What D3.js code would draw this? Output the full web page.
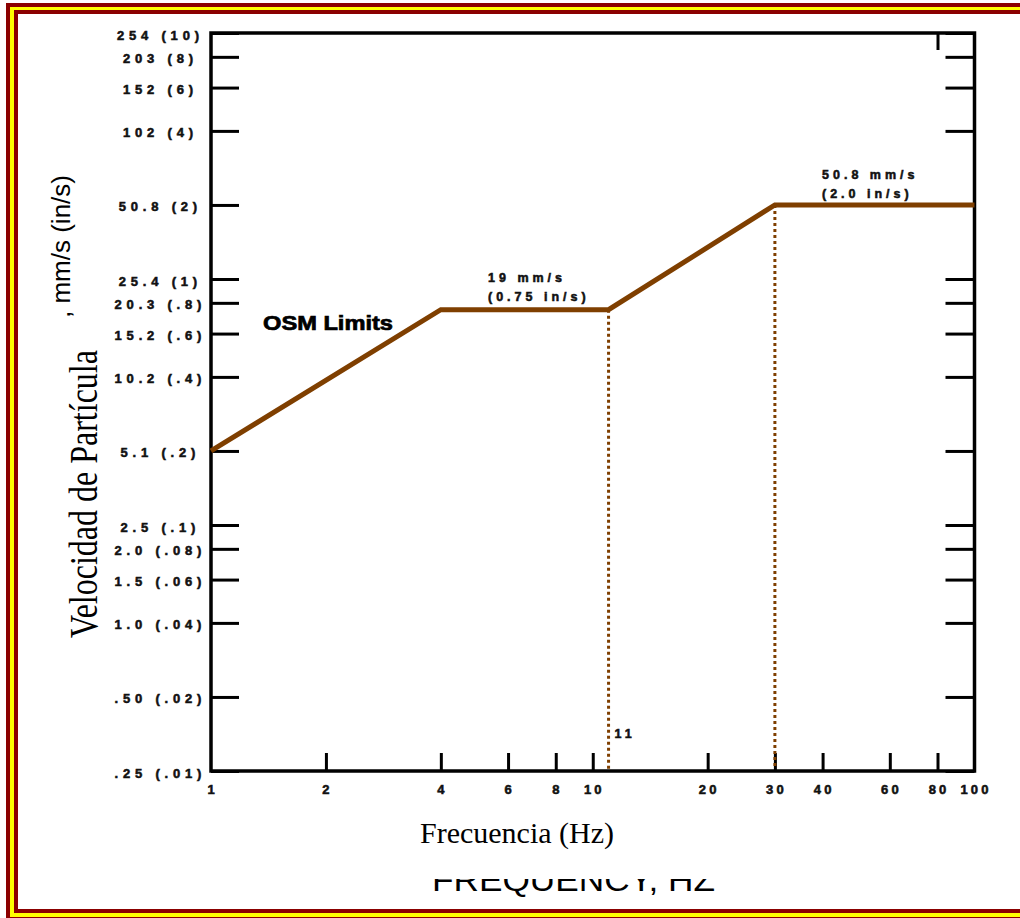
<!DOCTYPE html>
<html><head><meta charset="utf-8">
<script src="https://cdn.jsdelivr.net/npm/d3@7"></script>
<style>body{margin:0;background:#fff}svg{display:block}</style>
</head><body>
<svg id="c" width="1020" height="918"></svg>
<script>
// ---- data ----
const freqTicks = [2, 4, 6, 8, 10, 20, 30, 40, 60, 80];
const freqLabels = [1, 2, 4, 6, 8, 10, 20, 30, 40, 60, 80, 100];
const velTicksIn = [10, 8, 6, 4, 2, 1, 0.8, 0.6, 0.4, 0.2, 0.1, 0.08, 0.06, 0.04, 0.02, 0.01];
const velTickLabels = ["254 (10)", "203 (8)", "152 (6)", "102 (4)", "50.8 (2)", "25.4 (1)", "20.3 (.8)", "15.2 (.6)", "10.2 (.4)", "5.1 (.2)", "2.5 (.1)", "2.0 (.08)", "1.5 (.06)", "1.0 (.04)", ".50 (.02)", ".25 (.01)"];
const limitFreq = [1, 4, 11, 30, 100];
const limitVelIn = [0.2, 0.75, 0.75, 2.0, 2.0];
const markerFreq = [11, 30];
const topTickFreq = [80];
const markerLabel = "11";
const seriesLabel = "OSM Limits";
const plateau1 = ["19 mm/s", "(0.75 in/s)"];
const plateau2 = ["50.8 mm/s", "(2.0 in/s)"];
const xTitle = "Frecuencia (Hz)";
const xTitleOld = "FREQUENCY, HZ";
const yTitle = "Velocidad de Partícula";
const yUnits = ", mm/s (in/s)";

const svg = d3.select("#c");
const RED = "#8b0000", YEL = "#ffff00", BROWN = "#7f3f00";
const SANS = "'Liberation Sans', Arial, sans-serif";
const SERIF = "'Liberation Serif', 'Times New Roman', serif";

// ---- frame border ----
svg.append("rect").attr("width", 1020).attr("height", 918).attr("fill", "#fff");
svg.append("rect").attr("x", 6).attr("y", 3).attr("width", 1100).attr("height", 1000).attr("fill", RED);
svg.append("rect").attr("x", 10).attr("y", 7).attr("width", 1100).attr("height", 910).attr("fill", YEL);
svg.append("rect").attr("x", 14).attr("y", 10).attr("width", 1100).attr("height", 903).attr("fill", RED);
svg.append("rect").attr("x", 18).attr("y", 14).attr("width", 1100).attr("height", 895).attr("fill", "#fff");

// ---- scales ----
const x = d3.scaleLog().domain([1, 100]).range([211, 974.5]);
const y = d3.scaleLog().domain([0.01, 10]).range([771, 33]);

const g = svg.append("g");

// y ticks (left and right, inward)
const yAxisL = d3.axisLeft(y).tickValues(velTicksIn).tickSize(-28).tickSizeOuter(0).tickFormat("");
const gl = g.append("g").attr("transform", `translate(${x(1)},0)`).call(yAxisL);
gl.select(".domain").remove();
gl.selectAll(".tick line").attr("stroke", "#000").attr("stroke-width", 3);

const yAxisR = d3.axisRight(y).tickValues(velTicksIn).tickSize(-29).tickSizeOuter(0).tickFormat("");
const gr = g.append("g").attr("transform", `translate(${x(100)},0)`).call(yAxisR);
gr.select(".domain").remove();
gr.selectAll(".tick line").attr("stroke", "#000").attr("stroke-width", 3);

// x ticks (bottom, inward)
const xAxisB = d3.axisBottom(x).tickValues(freqTicks).tickSize(-18).tickSizeOuter(0).tickFormat("");
const gb = g.append("g").attr("transform", `translate(0,${y(0.01)})`).call(xAxisB);
gb.select(".domain").remove();
gb.selectAll(".tick line").attr("stroke", "#000").attr("stroke-width", 3);

const xAxisT = d3.axisTop(x).tickValues(topTickFreq).tickSize(-17).tickSizeOuter(0).tickFormat("");
const gt = g.append("g").attr("transform", `translate(0,${y(10)})`).call(xAxisT);
gt.select(".domain").remove();
gt.selectAll(".tick line").attr("stroke", "#000").attr("stroke-width", 3);

// frame
g.append("rect")
  .attr("x", x(1)).attr("y", y(10))
  .attr("width", x(100) - x(1)).attr("height", y(0.01) - y(10))
  .attr("fill", "none").attr("stroke", "#000").attr("stroke-width", 3.5);

const heavy = (t, size, ls) => t.attr("font-family", SANS).attr("font-weight", "bold")
  .attr("font-size", size).attr("letter-spacing", ls)
  .attr("fill", "#111").attr("stroke", "#111").attr("stroke-width", 0.55);

// y tick labels
const lsY = 4.8;
g.selectAll(".ylab").data(velTicksIn).enter().append("text")
  .attr("x", 158 + lsY / 2).attr("y", d => y(d) + 6.5)
  .attr("text-anchor", "middle")
  .call(heavy, 13, lsY)
  .text((d, i) => velTickLabels[i]);

// x tick labels
const lsX = 3.2;
g.selectAll(".xlab").data(freqLabels).enter().append("text")
  .attr("x", d => x(d) + lsX / 2).attr("y", d => y(0.01) + 22.5)
  .attr("text-anchor", "middle")
  .call(heavy, 13, lsX)
  .text(d => d);

// dotted marker lines
const limitPts = limitFreq.map((f, i) => [f, limitVelIn[i]]);
const velAt = f => limitVelIn[limitFreq.indexOf(f)];
g.selectAll(".mk").data(markerFreq).enter().append("line")
  .attr("x1", d => x(d)).attr("x2", d => x(d))
  .attr("y1", d => y(velAt(d))).attr("y2", y(0.01) - 2)
  .attr("stroke", BROWN).attr("stroke-width", 3).attr("stroke-dasharray", "3,3");

// limit line
g.append("path").datum(limitPts)
  .attr("d", d3.line().x(d => x(d[0])).y(d => y(d[1])))
  .attr("fill", "none").attr("stroke", BROWN).attr("stroke-width", 5).attr("stroke-linejoin", "miter");

// annotations
plateau1.forEach((s, i) => {
  g.append("text").attr("x", 488).attr("y", y(0.75) - 27.5 + i * 18.5).text(s).call(heavy, 12.5, 4);
});
plateau2.forEach((s, i) => {
  g.append("text").attr("x", 822).attr("y", y(2.0) - 25.5 + i * 19).text(s).call(heavy, 12.5, 4);
});
g.append("text").attr("x", x(11) + 6).attr("y", 738).text(markerLabel).call(heavy, 12.5, 4);

g.append("text").attr("x", 263).attr("y", 330)
  .attr("font-family", SANS).attr("font-weight", "bold").attr("font-size", 20)
  .attr("textLength", 130).attr("lengthAdjust", "spacingAndGlyphs")
  .attr("stroke", "#000").attr("stroke-width", 0.7)
  .text(seriesLabel);

// titles
svg.append("text").attr("x", 517).attr("y", 843)
  .attr("text-anchor", "middle").attr("font-family", SERIF).attr("font-size", 30)
  .text(xTitle);

svg.append("clipPath").attr("id", "cut").append("rect")
  .attr("x", 0).attr("y", 879).attr("width", 1020).attr("height", 28);
svg.append("text").attr("x", 432).attr("y", 891)
  .attr("clip-path", "url(#cut)")
  .attr("font-family", SANS).attr("font-size", 32).attr("textLength", 283).attr("lengthAdjust", "spacingAndGlyphs")
  .text(xTitleOld);

svg.append("text")
  .attr("transform", "translate(97,494) rotate(-90) scale(1,1.25)")
  .attr("text-anchor", "middle").attr("font-family", SERIF).attr("font-size", 32)
  .text(yTitle);

svg.append("text")
  .attr("transform", "translate(70,318) rotate(-90)")
  .attr("text-anchor", "start").attr("font-family", SANS).attr("font-size", 26)
  .text(yUnits);
</script>
</body></html>
